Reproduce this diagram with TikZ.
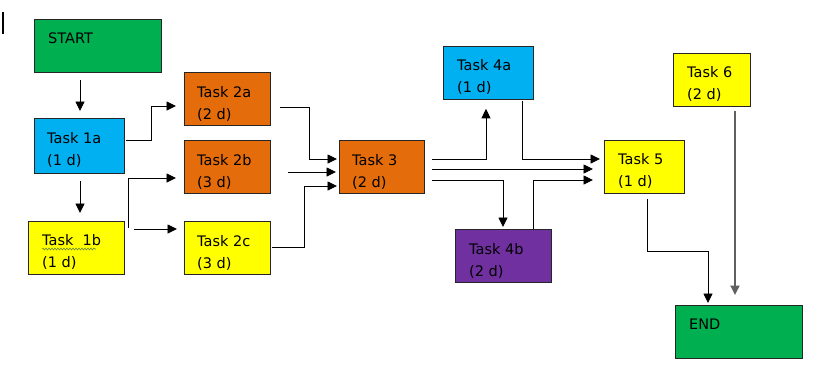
\documentclass[tikz,border=0pt]{standalone}
\usepackage{fontspec}
\setmainfont{DejaVu Sans}
\usetikzlibrary{arrows.meta,calc,decorations.pathmorphing}
\definecolor{cgreen}{HTML}{00B050}
\definecolor{cblue}{HTML}{00B0F0}
\definecolor{cyellow}{HTML}{FFFF00}
\definecolor{corange}{HTML}{E46C0A}
\definecolor{cpurple}{HTML}{7030A0}
\definecolor{cgrayline}{HTML}{606060}
\definecolor{cspell}{HTML}{6E8B3D}
\tikzset{
  box/.style={draw=black!85, line width=0.8pt, rectangle, anchor=north west, inner sep=0pt},
  txt/.style={anchor=base west, inner sep=0pt, font=\fontsize{14.5}{22}\selectfont},
  arr/.style={draw=black, line width=0.9pt, -{Triangle[length=9.5pt,width=9pt]}},
  garr/.style={draw=cgrayline, line width=1.8pt, -{Triangle[length=9.5pt,width=9pt]}}
}
\newcommand{\twoline}[2]{\begin{tabular}[t]{@{}l@{}}#1\\#2\end{tabular}}
\begin{document}
\begin{tikzpicture}[x=1pt,y=-1pt]
\useasboundingbox (0,0) rectangle (817,376);
% cursor mark
\draw[line width=1.5pt] (3,12) -- (3,34);
% boxes
\node[box, fill=cgreen,  minimum width=127pt, minimum height=53pt] (start) at (34,19) {};
\node[box, fill=cblue,   minimum width=90pt,  minimum height=55pt] (t1a) at (34,118) {};
\node[box, fill=cyellow, minimum width=96pt,  minimum height=53pt] (t1b) at (28,221) {};
\node[box, fill=corange, minimum width=86pt,  minimum height=53pt] (t2a) at (184,72) {};
\node[box, fill=corange, minimum width=86pt,  minimum height=53pt] (t2b) at (184,140) {};
\node[box, fill=cyellow, minimum width=86pt,  minimum height=53pt] (t2c) at (184,221) {};
\node[box, fill=corange, minimum width=85pt,  minimum height=53pt] (t3) at (339,140) {};
\node[box, fill=cblue,   minimum width=90pt,  minimum height=53pt] (t4a) at (443,46) {};
\node[box, fill=cpurple, minimum width=96pt,  minimum height=53pt] (t4b) at (455,229) {};
\node[box, fill=cyellow, minimum width=80pt,  minimum height=53pt] (t5) at (604,140) {};
\node[box, fill=cyellow, minimum width=77pt,  minimum height=53pt] (t6) at (673,53) {};
\node[box, fill=cgreen,  minimum width=127pt, minimum height=53pt] (end) at (675,305) {};
% texts
\node[txt] (lstart) at ($(start.north west)+(14,24)$) {START};
\node[txt] (l1a) at ($(t1a.north west)+(13,25)$) {\twoline{Task 1a}{(1 d)}};
\node[txt] (l1b) at ($(t1b.north west)+(14,24)$) {\twoline{Task\ \ 1b}{(1 d)}};
\node[txt] (l2a) at ($(t2a.north west)+(13,25)$) {\twoline{Task 2a}{(2 d)}};
\node[txt] (l2b) at ($(t2b.north west)+(13,25)$) {\twoline{Task 2b}{(3 d)}};
\node[txt] (l2c) at ($(t2c.north west)+(13,25)$) {\twoline{Task 2c}{(3 d)}};
\node[txt] (l3) at ($(t3.north west)+(13,25)$) {\twoline{Task 3}{(2 d)}};
\node[txt] (l4a) at ($(t4a.north west)+(14,24)$) {\twoline{Task 4a}{(1 d)}};
\node[txt] (l4b) at ($(t4b.north west)+(14,25)$) {\twoline{Task 4b}{(2 d)}};
\node[txt] (l5) at ($(t5.north west)+(14,24)$) {\twoline{Task 5}{(1 d)}};
\node[txt] (l6) at ($(t6.north west)+(14,24)$) {\twoline{Task 6}{(2 d)}};
\node[txt] (lend) at ($(end.north west)+(14,24)$) {END};
% spell-check squiggle under "Task 1b"
\draw[cspell, line width=0.6pt, decorate, decoration={snake, amplitude=0.9pt, segment length=3pt}]
  ($(t1b.north west)+(14,28)$) -- ($(t1b.north west)+(68,28)$);
% connectors
\draw[arr] ($(start.south west)+(46,7)$) -- ($(t1a.north west)+(46,-7)$);
\draw[arr] ($(t1a.north east)+(1,22)$) -- ++(26,0) |- ($(t2a.north west)+(-8,34)$);
\draw[arr] ($(t1a.south west)+(46,7)$) -- ($(t1b.north west)+(52,-8)$);
\draw[arr] ($(t1b.north east)+(4,7)$) |- ($(t2b.north west)+(-8,38)$);
\draw[arr] ($(t1b.north east)+(9,8)$) -- ($(t2c.north west)+(-7,8)$);
\draw[arr] ($(t2a.north east)+(9,35)$) -- ++(30,0) |- ($(t3.north west)+(-2,19)$);
\draw[arr] ($(t2b.north east)+(17,32)$) -- ($(t3.north west)+(-3,32)$);
\draw[arr] ($(t2c.north east)+(1,26)$) -- ++(33,0) |- ($(t3.north west)+(-2,46)$);
\draw[arr] ($(t3.north east)+(7,19)$) -| ($(t4a.south west)+(43,9)$);
\draw[arr] ($(t3.north east)+(7,29)$) -- ($(t5.north west)+(-11,29)$);
\draw[arr] ($(t3.north east)+(7,40)$) -| ($(t4b.north west)+(48,-2)$);
\draw[arr] ($(t4a.south west)+(79,1)$) |- ($(t5.north west)+(-4,19)$);
\draw[arr] ($(t4b.north west)+(78,0)$) |- ($(t5.north west)+(-11,40)$);
\draw[arr] ($(t5.south west)+(43,5)$) -- ++(0,53) -| ($(end.north west)+(33,-2)$);
\draw[garr] ($(t6.south west)+(62,4)$) -- ($(end.north west)+(60,-10)$);
\end{tikzpicture}
\end{document}
